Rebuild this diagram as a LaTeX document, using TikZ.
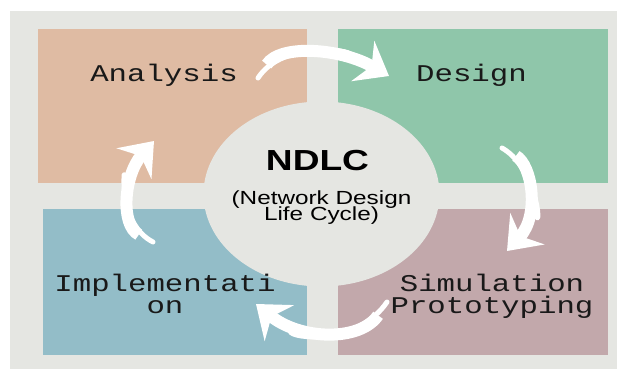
\documentclass[tikz,border=0pt]{standalone}
\usepackage{fontspec}
\setmainfont{Liberation Sans}
\setmonofont{Liberation Mono}
\usetikzlibrary{arrows.meta}

\definecolor{bggray}{HTML}{E5E6E2}
\definecolor{peach}{HTML}{DFBBA3}
\definecolor{mint}{HTML}{8FC6AA}
\definecolor{lakeblue}{HTML}{93BDC8}
\definecolor{mauve}{HTML}{C2A8AB}

\newcommand{\PhaseBox}[3]{\fill[#1] (#2) rectangle (#3);}
\newcommand{\PhaseLabel}[3][]{\node[phase, #1] (#2) {#3};}

\begin{document}
\begin{tikzpicture}[x=1pt, y=-1pt,
  phase/.style={font=\ttfamily\fontsize{24}{22}\selectfont, align=center, xscale=1.28, anchor=base, inner sep=0pt, text=black!90},
  flow/.style={white, line width=12pt, shorten <=16pt, -{Stealth[length=30pt, width=46pt, inset=10pt]}},
  flowtail/.style={white, line width=5pt, line cap=round, shorten >=45pt}]
\useasboundingbox (0,0) rectangle (620,371);
\fill[bggray] (10,11) rectangle (617,369);

\PhaseBox{peach}{38,29}{307,183}
\PhaseBox{mint}{338,29}{608,183}
\PhaseBox{lakeblue}{43,209}{307,355}
\PhaseBox{mauve}{338,209}{608,355}

\fill[bggray] (321.5,194) ellipse [x radius=118, y radius=92.5];

\PhaseLabel[at={(164,82)}]{analysis}{Analysis}
\PhaseLabel[at={(471.5,82)}]{design}{Design}
\PhaseLabel[at={(165,313)}]{impl}{Implementati\\on}
\PhaseLabel[at={(492,313)}]{sim}{Simulation\\Prototyping}

\node[font=\bfseries\fontsize{29}{29}\selectfont, xscale=1.28, anchor=base, inner sep=0pt] (ndlc) at (317.5,171) {NDLC};
\node[font=\fontsize{19}{12}\selectfont, xscale=1.28, align=center, anchor=base, inner sep=0pt] (full) at (321.5,221) {(Network Design\\[-2pt]Life Cycle)};

% arrows round the cycle
\coordinate (t1) at (258,78);  \coordinate (h1) at (389,76);
\coordinate (t2) at (502,148); \coordinate (h2) at (507,251);
\coordinate (t3) at (387,302); \coordinate (h3) at (256,304);
\coordinate (t4) at (153,242); \coordinate (h4) at (154,141);

\draw[flowtail] (t1) .. controls (280,44) and (340,48) .. (h1);
\draw[flow] (t1) .. controls (280,44) and (340,48) .. (h1);
\draw[flowtail] (t2) .. controls (532,165) and (540,215) .. (h2);
\draw[flow] (t2) .. controls (532,165) and (540,215) .. (h2);
\draw[flowtail] (t3) .. controls (360,342) and (300,340) .. (h3);
\draw[flow] (t3) .. controls (360,342) and (300,340) .. (h3);
\draw[flowtail] (t4) .. controls (120,225) and (124,175) .. (h4);
\draw[flow] (t4) .. controls (120,225) and (124,175) .. (h4);
\end{tikzpicture}
\end{document}
